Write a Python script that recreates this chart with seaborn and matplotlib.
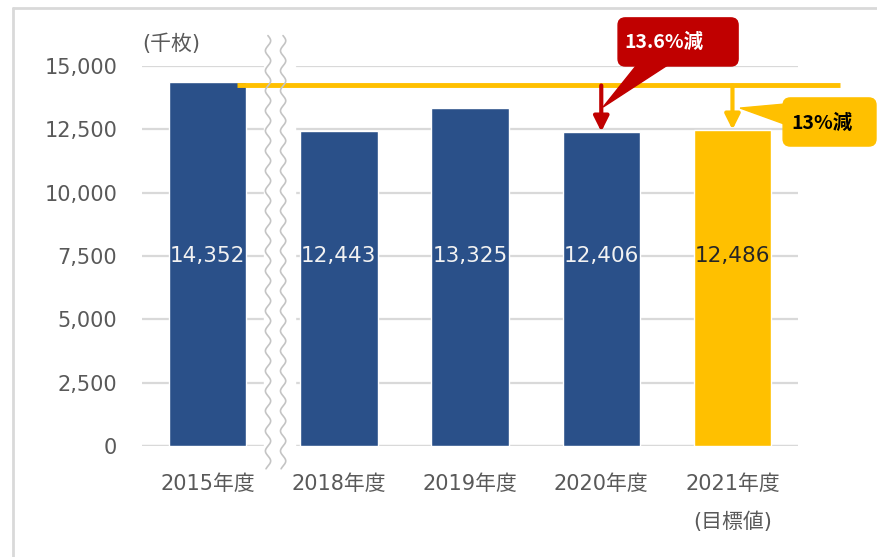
import numpy as np
import pandas as pd
import seaborn as sns
import matplotlib

matplotlib.use("agg")

import matplotlib.pyplot as plt
from matplotlib.patches import FancyBboxPatch, Polygon
from matplotlib.lines import Line2D
import matplotlib.transforms as mtransforms

# data
years = ["2015年度", "2018年度", "2019年度", "2020年度", "2021年度"]
tick_labels = ["2015年度", "2018年度", "2019年度", "2020年度", "2021年度\n(目標値)"]
sheets = [14352, 12443, 13325, 12406, 12486]
bar_colors = ["#2a5089", "#2a5089", "#2a5089", "#2a5089", "#ffc000"]
label_colors = ["#f2f2f2", "#f2f2f2", "#f2f2f2", "#f2f2f2", "#262626"]
unit_label = "(千枚)"
red_note = "13.6%減"
yellow_note = "13%減"

RED = "#c00000"
YELLOW = "#ffc000"
GRID = "#d9d9d9"
TEXT = "#595959"

sns.set_style("white")
plt.rcParams["font.family"] = ["DejaVu Sans", "Noto Sans CJK JP"]

df = pd.DataFrame({"year": years, "sheets": sheets})

fig = plt.figure(figsize=(8.77, 5.57), dpi=100)
ax = fig.add_axes([0.162, 0.1993, 0.748, 0.6822])

sns.barplot(data=df, x="year", y="sheets", hue="year", palette=bar_colors,
            width=0.59, legend=False, ax=ax, saturation=1)

ax.set_ylim(0, 15000)
ax.set_xlim(-0.5, len(years) - 0.5)
ax.set_yticks(np.arange(0, 15001, 2500))
ax.set_yticklabels([f"{v:,}" for v in np.arange(0, 15001, 2500)])
ax.set_xticks(range(len(years)))
ax.set_xticklabels(tick_labels, linespacing=2.05)
ax.tick_params(axis="y", length=0, pad=18, labelsize=15, labelcolor=TEXT)
ax.tick_params(axis="x", length=0, pad=20, labelsize=15, labelcolor=TEXT)
ax.set_xlabel("")
ax.set_ylabel("")
for s in ax.spines.values():
    s.set_visible(False)
ax.grid(axis="y", color=GRID, lw=1.6)
ax.set_axisbelow(True)
ax.axhline(0, color=GRID, lw=1.6, zorder=0.6)

# value labels inside bars
lbl_tr = mtransforms.blended_transform_factory(ax.transData, ax.transAxes)
for i, v in enumerate(sheets):
    ax.text(i, 0.5, f"{v:,}", transform=lbl_tr, ha="center", va="center",
            fontsize=15.5, color=label_colors[i], zorder=5)

# unit label
ax.text(0.0, 1.058, unit_label, transform=ax.transAxes, ha="left", va="center",
        fontsize=15, color=TEXT)

# axis break between 2015 and 2018
ax.axvspan(0.43, 0.666, ymin=-0.02, ymax=1.0, color="white", zorder=0.8, clip_on=False)
yy = np.linspace(-900, 16200, 600)
for xc in (0.46, 0.575):
    xx = xc + 0.02 * np.sin(2 * np.pi * yy / 790)
    ax.plot(xx, yy, color="#c4c4c4", lw=1.2, clip_on=False, zorder=6)

# reference line at the 2015 level
base = sheets[0]
line_y = base - 120
ax.hlines(line_y, 0.22, 4.82, color=YELLOW, lw=3.5, clip_on=False, zorder=4)

# arrows down to 2020 and 2021
for i, col in ((3, RED), (4, YELLOW)):
    ax.annotate("", xy=(i, sheets[i]), xytext=(i, line_y),
                arrowprops=dict(arrowstyle="-|>,head_width=0.45,head_length=0.9",
                                lw=3, color=col, shrinkA=0, shrinkB=0),
                zorder=4)

# callouts
asp = 5180  # y data units per x data unit for equal pixels
red_box = FancyBboxPatch((3.128, 15000), 0.915, 1900,
                         boxstyle="round,pad=0,rounding_size=0.055",
                         mutation_aspect=asp, fc=RED, ec=RED, clip_on=False, zorder=7)
ax.add_patch(red_box)
ax.add_patch(Polygon([(3.28, 15100), (3.524, 15100), (3.014, 13380)], closed=True,
                     fc=RED, ec=RED, clip_on=False, zorder=7))
ax.text(3.48, 15950, red_note, ha="center", va="center", fontsize=14,
        color="white", family=["Noto Sans CJK JP"], fontweight="bold", zorder=8)

yel_box = FancyBboxPatch((4.386, 11840), 0.708, 1900,
                         boxstyle="round,pad=0,rounding_size=0.055",
                         mutation_aspect=asp, fc=YELLOW, ec=YELLOW, clip_on=False, zorder=7)
ax.add_patch(yel_box)
ax.add_patch(Polygon([(4.40, 13500), (4.40, 12700), (4.058, 13340)], closed=True,
                     fc=YELLOW, ec=YELLOW, clip_on=False, zorder=7))
ax.text(4.68, 12740, yellow_note, ha="center", va="center", fontsize=14,
        color="black", family=["Noto Sans CJK JP"], fontweight="bold", zorder=8)

# outer frame (left and top edges)
fig.add_artist(Line2D([0.0148, 0.0148], [0.0, 0.986], transform=fig.transFigure,
                      color=GRID, lw=2))
fig.add_artist(Line2D([0.0148, 1.0], [0.986, 0.986], transform=fig.transFigure,
                      color=GRID, lw=2))

fig.savefig("out.png", dpi=100)
